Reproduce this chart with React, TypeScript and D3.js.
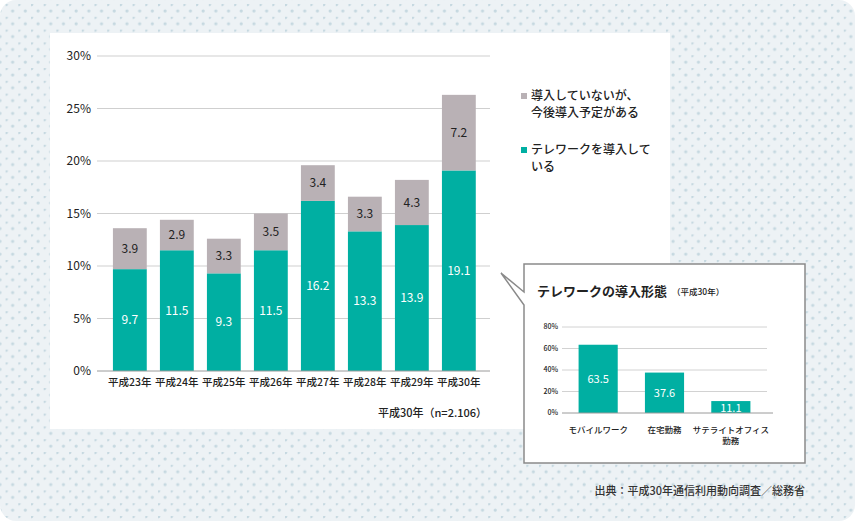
import React from 'react';
import * as d3 from 'd3';

const years = ['平成23年', '平成24年', '平成25年', '平成26年', '平成27年', '平成28年', '平成29年', '平成30年'];
const introduced = [9.7, 11.5, 9.3, 11.5, 16.2, 13.3, 13.9, 19.1];
const planned = [3.9, 2.9, 3.3, 3.5, 3.4, 3.3, 4.3, 7.2];
const yTicks = [0, 5, 10, 15, 20, 25, 30];

const insetCats = ['モバイルワーク', '在宅勤務', 'サテライトオフィス勤務'];
const insetCatLines = [['モバイルワーク'], ['在宅勤務'], ['サテライトオフィス', '勤務']];
const insetValues = [63.5, 37.6, 11.1];
const insetTicks = [0, 20, 40, 60, 80];

const TEAL = '#00afa2';
const GRAY = '#b9b1b5';
const FONT = "'Noto Sans CJK JP', 'Noto Sans', sans-serif";
const W = 855;
const H = 521;

export default function App() {
  const x = d3.scaleBand<string>().domain(years).range([96, 492.7]).paddingInner(0.28).paddingOuter(0.36);
  const y = d3.scaleLinear().domain([0, 30]).range([371, 56]);

  const ix = d3.scaleBand<string>().domain(insetCats).range([562, 767]).paddingInner(0.41).paddingOuter(0.25);
  const iy = d3.scaleLinear().domain([0, 80]).range([413, 327]);

  const calloutPath = 'M524,264 L805,264 L805,463 L524,463 L524,305 L501,273 L524,292 Z';

  return (
    <svg width={W} height={H} style={{ position: 'absolute', left: 0, top: 0, display: 'block' }} fontFamily={FONT}>
      <defs>
        <pattern id="dots" patternUnits="userSpaceOnUse" x={5.6} y={4} width={12.7} height={12.8}>
          <rect width={12.7} height={12.8} fill="#edf2f5" />
          <circle cx={0.7} cy={0.6} r={1.6} fill="#c5d8e0" />
          <circle cx={7.05} cy={7.0} r={1.6} fill="#c5d8e0" />
        </pattern>
      </defs>
      <rect x={0} y={0} width={W} height={H} rx={16} ry={16} fill="url(#dots)" />
      <rect x={50} y={33} width={620} height={396} fill="#ffffff" />

      {/* main grid */}
      {yTicks.map((t) => (
        <g key={t}>
          {t > 0 && <line x1={97} x2={490} y1={y(t)} y2={y(t)} stroke="#cfcfcf" strokeWidth={1} />}
          <text x={91} y={y(t)} dy="0.35em" textAnchor="end" fontSize={12} fill="#222">{t}%</text>
        </g>
      ))}

      {/* bars */}
      {years.map((yr, i) => {
        const x0 = x(yr)!;
        const bw = x.bandwidth();
        const a = introduced[i];
        const b = planned[i];
        return (
          <g key={yr}>
            <rect x={x0} y={y(a)} width={bw} height={y(0) - y(a)} fill={TEAL} />
            <rect x={x0} y={y(a + b)} width={bw} height={y(a) - y(a + b)} fill={GRAY} />
            <text x={x0 + bw / 2} y={(y(0) + y(a)) / 2} dy="0.35em" textAnchor="middle" fontSize={12} fill="#fff">{a.toFixed(1)}</text>
            <text x={x0 + bw / 2} y={(y(a) + y(a + b)) / 2} dy="0.35em" textAnchor="middle" fontSize={12} fill="#222">{b.toFixed(1)}</text>
            <text x={x0 + bw / 2} y={382} dy="0.35em" textAnchor="middle" fontSize={10.5} fontWeight={500} fill="#222">{yr}</text>
          </g>
        );
      })}
      <line x1={97} x2={490} y1={y(0)} y2={y(0)} stroke="#9a9a9a" strokeWidth={1} />
      <text x={487} y={413} dy="0.35em" textAnchor="end" fontSize={11} fontWeight={500} fill="#222">平成30年（n=2.106）</text>

      {/* legend */}
      <rect x={521} y={93} width={6} height={6} fill={GRAY} />
      <text x={531} y={100} fontSize={12} fontWeight={500} fill="#222">導入していないが、</text>
      <text x={531} y={117} fontSize={12} fontWeight={500} fill="#222">今後導入予定がある</text>
      <rect x={521} y={147} width={6} height={6} fill={TEAL} />
      <text x={531} y={154} fontSize={12} fontWeight={500} fill="#222">テレワークを導入して</text>
      <text x={531} y={171} fontSize={12} fontWeight={500} fill="#222">いる</text>

      {/* inset callout */}
      <path d={calloutPath} fill="#fff" stroke="#8a8a8a" strokeWidth={1.5} strokeLinejoin="miter" />
      <text x={537} y={296} fontSize={13} fontWeight={700} fill="#222">テレワークの導入形態</text>
      <text x={672} y={295} fontSize={8.5} fontWeight={500} fill="#222">（平成30年）</text>
      {insetTicks.map((t) => (
        <g key={t}>
          {t > 0 && <line x1={562} x2={767} y1={iy(t)} y2={iy(t)} stroke="#d2d2d2" strokeWidth={1} />}
          <text x={558} y={iy(t)} dy="0.35em" textAnchor="end" fontSize={7} fontWeight={500} fill="#222">{t}%</text>
        </g>
      ))}
      {insetCats.map((c, i) => {
        const x0 = ix(c)!;
        const bw = ix.bandwidth();
        const v = insetValues[i];
        return (
          <g key={c}>
            <rect x={x0} y={iy(v)} width={bw} height={iy(0) - iy(v)} fill={TEAL} />
            <text x={x0 + bw / 2} y={(iy(0) + iy(v)) / 2 + (i === 2 ? 1 : 0)} dy="0.35em" textAnchor="middle" fontSize={11} fill="#fff">{v.toFixed(1)}</text>
            {insetCatLines[i].map((ln, k) => (
              <text key={k} x={x0 + bw / 2} y={430 + k * 11} dy="0.35em" textAnchor="middle" fontSize={8.5} fontWeight={500} fill="#222">{ln}</text>
            ))}
          </g>
        );
      })}
      <line x1={562} x2={773} y1={iy(0)} y2={iy(0)} stroke="#9a9a9a" strokeWidth={1} />

      {/* source */}
      <text x={805} y={491} dy="0.35em" textAnchor="end" fontSize={11} fontWeight={500} fill="#333">出典：平成30年通信利用動向調査／総務省</text>
    </svg>
  );
}
